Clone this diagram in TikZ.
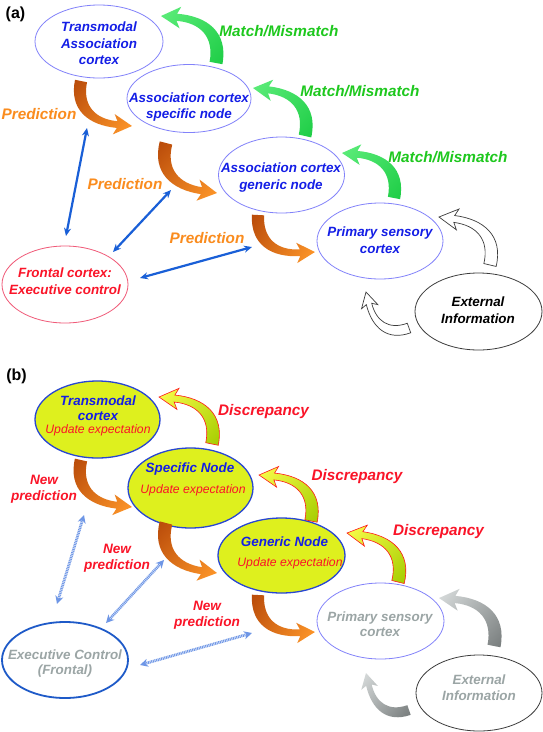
\documentclass[tikz,border=0pt]{standalone}
\usepackage{fontspec}
\setmainfont{Liberation Sans}
\usetikzlibrary{arrows.meta,shapes.geometric}
\definecolor{txtblue}{RGB}{20,30,230}
\definecolor{ellblue}{RGB}{130,130,250}
\definecolor{ellred}{RGB}{240,90,120}
\definecolor{txtred}{RGB}{250,20,40}
\definecolor{txtgreen}{RGB}{30,200,30}
\definecolor{txtorange}{RGB}{250,140,30}
\definecolor{arrblue}{RGB}{25,95,215}
\definecolor{yfill}{RGB}{222,240,30}
\definecolor{yedge}{RGB}{40,70,210}
\definecolor{grtxt}{RGB}{155,165,165}
\definecolor{hatchblue}{RGB}{110,150,230}
\definecolor{execblue}{RGB}{30,90,200}
\definecolor{orDark}{RGB}{185,75,10}
\definecolor{orLight}{RGB}{252,148,40}
\definecolor{grDark}{RGB}{30,205,70}
\definecolor{grLight}{RGB}{90,235,120}
\definecolor{ylDark}{RGB}{165,205,0}
\definecolor{ylLight}{RGB}{245,250,70}
\definecolor{gyDark}{RGB}{120,125,125}
\definecolor{gyLight}{RGB}{212,216,216}
\definecolor{darkedge}{RGB}{60,60,60}
\tikzset{
  ell/.style={ellipse, draw=ellblue, line width=0.8pt, minimum width=126pt, minimum height=76pt, inner sep=0pt},
  ntxt/.style={font=\fontsize{13.4}{16.5}\selectfont\bfseries\itshape, align=center, inner sep=0pt},
  lbl/.style={font=\fontsize{15.3}{18}\selectfont\bfseries\itshape, inner sep=0pt},
  nplbl/.style={font=\fontsize{13.6}{16}\selectfont\bfseries\itshape, align=center, inner sep=0pt, text=txtred},
  upd/.style={font=\fontsize{12.2}{14}\selectfont\itshape, text=txtred, inner sep=0pt},
  panel/.style={font=\fontsize{16}{18}\selectfont\bfseries, inner sep=0pt},
  barr/.style={draw=arrblue, line width=2.2pt, arrows={Stealth[length=8pt,width=7pt]-Stealth[length=8pt,width=7pt]}},
  hatch/.style={draw=hatchblue, line width=2.8pt, dash pattern=on 1pt off 0.7pt, arrows={Stealth[length=8pt,width=8pt]-Stealth[length=8pt,width=8pt]}},
  orarrow/.style={left color=orDark, right color=orLight},
  grarrow/.style={left color=grDark, right color=grLight},
  ylarrow/.style={left color=ylDark, right color=ylLight, draw=red!90, line width=0.6pt},
  wharrow/.style={fill=white, draw=darkedge, line width=0.7pt},
  gyarrow/.style={left color=gyDark, right color=gyLight},
}
% curved block arrow: tail (x1,y1), tip (x2,y2), side (+1/-1), style
\newcommand{\cblockarrow}[6]{%
  \pgfmathsetmacro{\cadx}{#3-#1}%
  \pgfmathsetmacro{\cady}{#2-#4}%
  \pgfmathsetmacro{\caang}{atan2(\cady,\cadx)}%
  \pgfmathsetmacro{\calen}{veclen(\cadx,\cady)}%
  \pgfmathsetmacro{\cayy}{-1*#5*\calen}%
  \begin{scope}[transform canvas={shift={(#1pt,-#2pt)},rotate=\caang}, x=\calen pt, y=\cayy pt]
    \path[#6] (-0.078,0.045) .. controls (0.147,0.435) and (0.511,0.416) .. (0.851,0.169)
      -- (0.870,0.279) -- (1,0) -- (0.694,0.037) -- (0.793,0.089)
      .. controls (0.526,0.283) and (0.253,0.258) .. (0.078,-0.045) -- cycle;
  \end{scope}}
\begin{document}
\begin{tikzpicture}[x=1pt,y=-1pt]
\useasboundingbox (0,0) rectangle (543,732);
\fill[white] (0,0) rectangle (543,732);

% ---------------- panel (a) ----------------
\node[panel] (pa) at (15.5,14) {(a)};

\node[ell, minimum width=128pt, minimum height=73pt] (tma) at (99,41.5) {};
\node[ntxt, text=txtblue] (tmat) at (99,43.5) {Transmodal\\Association\\cortex};
\node[ell, minimum width=124pt, minimum height=68pt] (spa) at (189,98.5) {};
\node[ntxt, text=txtblue] (spat) at (189,107) {Association cortex\\specific node};
\node[ell] (gna) at (281.5,175) {};
\node[ntxt, text=txtblue] (gnat) at (281,177.5) {Association cortex\\generic node};
\node[ell] (psa) at (380,241) {};
\node[ntxt, text=txtblue] (psat) at (380,240) {Primary sensory\\cortex};
\node[ell, draw=darkedge, minimum width=127pt, minimum height=77pt] (exa) at (478.5,311.5) {};
\node[ntxt, text=black] (exat) at (478,310) {External\\Information};
\node[ell, draw=ellred, minimum height=77pt] (fra) at (65,284.5) {};
\node[ntxt, text=txtred] (frat) at (65,281) {Frontal cortex:\\Executive control};

\node[lbl, text=txtgreen] (mm1) at (279,31) {Match/Mismatch};
\node[lbl, text=txtgreen] (mm2) at (360,91) {Match/Mismatch};
\node[lbl, text=txtgreen] (mm3) at (448,157) {Match/Mismatch};
\node[lbl, text=txtorange] (pr1) at (39,114) {Prediction};
\node[lbl, text=txtorange] (pr2) at (125,184) {Prediction};
\node[lbl, text=txtorange] (pr3) at (207,238) {Prediction};

\cblockarrow{81}{81}{132}{126}{1}{orarrow}
\cblockarrow{166}{143}{217}{193}{1}{orarrow}
\cblockarrow{258}{215}{315}{252}{1}{orarrow}
\cblockarrow{216}{63}{161}{16}{1}{grarrow}
\cblockarrow{305}{136}{253}{88}{1}{grarrow}
\cblockarrow{394}{198}{342}{153}{1}{grarrow}
\cblockarrow{490}{265}{439}{217}{1}{wharrow}
\cblockarrow{409}{328}{366}{292}{-1}{wharrow}

\coordinate (a1s) at (87,128);  \coordinate (a1e) at (66,236);
\coordinate (a2s) at (171,190); \coordinate (a2e) at (113,252);
\coordinate (a3s) at (140,278); \coordinate (a3e) at (252,247);
\draw[barr] (a1s) -- (a1e);
\draw[barr] (a2s) -- (a2e);
\draw[barr] (a3s) -- (a3e);

% ---------------- panel (b) ----------------
\node[panel] (pb) at (16.5,376.5) {(b)};

\node[ell, fill=yfill, draw=yedge, line width=1.3pt, minimum width=125pt, minimum height=77pt] (tmb) at (97.5,419.5) {};
\node[ntxt, text=txtblue, font=\fontsize{13.4}{15}\selectfont\bfseries\itshape] (tmbt) at (98,408.5) {Transmodal\\cortex};
\node[upd] (tmbu) at (98,430) {Update expectation};
\node[ell, fill=yfill, draw=yedge, line width=1.3pt, minimum width=125pt, minimum height=80pt] (spb) at (190.5,488) {};
\node[ntxt, text=txtblue] (spbt) at (190,469.5) {Specific Node};
\node[upd] (spbu) at (193,490) {Update expectation};
\node[ell, fill=yfill, draw=yedge, line width=1.3pt, minimum width=127pt, minimum height=75pt] (gnb) at (281.5,555.5) {};
\node[ntxt, text=txtblue] (gnbt) at (284.5,542) {Generic Node};
\node[upd] (gnbu) at (290,563) {Update expectation};
\node[ell, minimum width=127pt] (psb) at (380.5,621) {};
\node[ntxt, text=grtxt, font=\fontsize{13.4}{15}\selectfont\bfseries\itshape] (psbt) at (380,624.5) {Primary sensory\\cortex};
\node[ell, draw=darkedge] (exb) at (479,693) {};
\node[ntxt, text=grtxt] (exbt) at (479,687.5) {External\\Information};
\node[ell, draw=execblue, line width=1.8pt] (exc) at (65,660) {};
\node[ntxt, text=grtxt, font=\fontsize{13.4}{15}\selectfont\bfseries\itshape] (exct) at (65,663.5) {Executive Control\\(Frontal)};

\node[lbl, text=txtred] (d1) at (263.5,412) {Discrepancy};
\node[lbl, text=txtred] (d2) at (357,477) {Discrepancy};
\node[lbl, text=txtred] (d3) at (438.5,532) {Discrepancy};
\node[nplbl] (np1) at (44,489) {New\\prediction};
\node[nplbl] (np2) at (117,558) {New\\prediction};
\node[nplbl] (np3) at (207,615) {New\\prediction};

\cblockarrow{212}{444}{159}{397}{1}{ylarrow}
\cblockarrow{311}{521}{259}{475}{1}{ylarrow}
\cblockarrow{398}{582}{347}{533}{1}{ylarrow}
\cblockarrow{81}{460}{132}{507}{1}{orarrow}
\cblockarrow{166}{523}{217}{573}{1}{orarrow}
\cblockarrow{258}{595}{315}{632}{1}{orarrow}
\cblockarrow{494}{646}{439}{598}{1}{gyarrow}
\cblockarrow{409}{710}{366}{673}{-1}{gyarrow}

\coordinate (b1s) at (84,515);  \coordinate (b1e) at (57,604);
\coordinate (b2s) at (164,560); \coordinate (b2e) at (106,623);
\coordinate (b3s) at (140,665); \coordinate (b3e) at (252,633);
\draw[hatch] (b1s) -- (b1e);
\draw[hatch] (b2s) -- (b2e);
\draw[hatch] (b3s) -- (b3e);
\end{tikzpicture}
\end{document}
